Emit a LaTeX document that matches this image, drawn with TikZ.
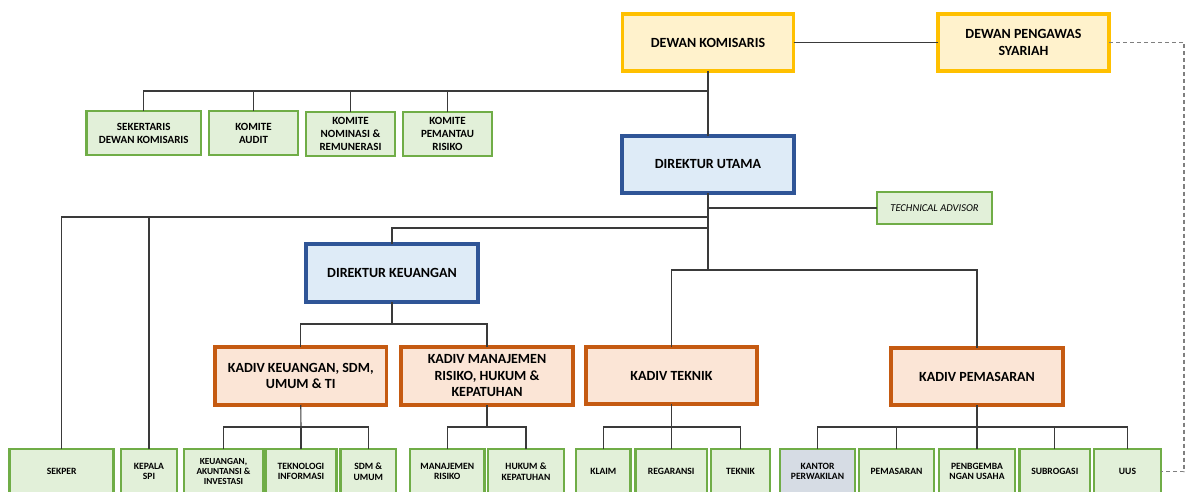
\documentclass[tikz,border=0pt]{standalone}
\usepackage{fontspec}
\setmainfont{Carlito}
\definecolor{yfill}{HTML}{FFF2CC}
\definecolor{ydraw}{HTML}{FFC000}
\definecolor{bfill}{HTML}{DEEBF7}
\definecolor{bdraw}{HTML}{2F5597}
\definecolor{ofill}{HTML}{FBE5D6}
\definecolor{odraw}{HTML}{C55A11}
\definecolor{gfill}{HTML}{E2F0D9}
\definecolor{gdraw}{HTML}{70AD47}
\definecolor{kfill}{HTML}{D6DCE4}
\definecolor{lcol}{HTML}{3A3A3A}
\definecolor{dcol}{HTML}{7F7F7F}
\tikzset{
  box/.style={rectangle, inner sep=0pt, outer sep=0pt, align=center, font=\bfseries},
  yel/.style={box, fill=yfill, draw=ydraw, line width=3.2pt, font=\bfseries\fontsize{14}{17.5}\selectfont},
  blu/.style={box, fill=bfill, draw=bdraw, line width=3.2pt, font=\bfseries\fontsize{14}{17}\selectfont},
  ora/.style={box, fill=ofill, draw=odraw, line width=3.2pt, font=\bfseries\fontsize{14}{16.5}\selectfont},
  grn/.style={box, fill=gfill, draw=gdraw, line width=2.6pt, font=\bfseries\fontsize{11}{13}\selectfont},
  grs/.style={box, fill=gfill, draw=gdraw, line width=2.6pt, font=\bfseries\fontsize{9.6}{10.5}\selectfont},
  conn/.style={draw=lcol, line width=1.1pt},
  dconn/.style={draw=dcol, line width=1.1pt, dash pattern=on 4pt off 3pt},
}
\begin{document}
\begin{tikzpicture}[x=1pt,y=-1pt]
\fill[white] (0,0) rectangle (1186,492);
\useasboundingbox (0,0) rectangle (1186,492);
\clip (0,0) rectangle (1186,492);
% top level
\node[yel, minimum width=171pt, minimum height=57pt] (dk) at (708,42.5) {DEWAN KOMISARIS};
\node[yel, minimum width=171pt, minimum height=57pt] (dps) at (1023.5,42.5) {DEWAN PENGAWAS\\SYARIAH};
% committees
\node[grn, minimum width=114.5pt, minimum height=44pt] (sdk) at (143.75,133) {SEKERTARIS\\DEWAN KOMISARIS};
\node[grn, minimum width=89pt, minimum height=44pt] (ka) at (253.5,133) {KOMITE\\AUDIT};
\node[grn, minimum width=89pt, minimum height=44pt] (kn) at (350.5,134) {KOMITE\\NOMINASI \&\\REMUNERASI};
\node[grn, minimum width=89pt, minimum height=44pt] (kp) at (447.5,134) {KOMITE\\PEMANTAU\\RISIKO};
% direktur
\node[blu, minimum width=172pt, minimum height=57pt] (du) at (708,164.5) {DIREKTUR UTAMA};
\node[box, fill=gfill, draw=gdraw, line width=1.6pt, minimum width=115pt, minimum height=32pt, font=\itshape\fontsize{10.5}{12}\selectfont] (ta) at (934.5,208) {TECHNICAL ADVISOR};
\node[blu, minimum width=172pt, minimum height=58pt] (dkeu) at (392,273) {DIREKTUR KEUANGAN};
% kadiv
\node[ora, minimum width=171.5pt, minimum height=58pt] (kkeu) at (300.75,376) {KADIV KEUANGAN, SDM,\\UMUM \& TI};
\node[ora, minimum width=172pt, minimum height=58pt] (kman) at (487,376) {KADIV MANAJEMEN\\RISIKO, HUKUM \&\\KEPATUHAN};
\node[ora, minimum width=171pt, minimum height=57pt] (ktek) at (671.5,375.5) {KADIV TEKNIK};
\node[ora, minimum width=172pt, minimum height=57pt] (kpem) at (977,376.5) {KADIV PEMASARAN};
% bottom row
\node[grs, minimum width=104pt, minimum height=45pt] (sekper) at (61.65,471.5) {SEKPER};
\node[grs, minimum width=56pt, minimum height=45pt] (spi) at (149,471.5) {KEPALA\\SPI};
\node[grs, minimum width=79pt, minimum height=45pt, font=\bfseries\fontsize{9.3}{9.6}\selectfont] (keu) at (223.5,471.5) {KEUANGAN,\\AKUNTANSI \&\\INVESTASI};
\node[grs, minimum width=71pt, minimum height=45pt] (ti) at (301,471.5) {TEKNOLOGI\\INFORMASI};
\node[grs, minimum width=55.4pt, minimum height=45pt] (sdm) at (368.3,471.5) {SDM \&\\UMUM};
\node[grs, minimum width=74.5pt, minimum height=45pt] (mr) at (447.25,471.5) {MANAJEMEN\\RISIKO};
\node[grs, minimum width=76pt, minimum height=45pt] (huk) at (526,471.5) {HUKUM \&\\KEPATUHAN};
\node[grs, minimum width=54.6pt, minimum height=45pt] (klaim) at (603.3,471.5) {KLAIM};
\node[grs, minimum width=71.5pt, minimum height=45pt] (reg) at (671.25,471.5) {REGARANSI};
\node[grs, minimum width=59pt, minimum height=45pt] (tek) at (740.5,471.5) {TEKNIK};
\node[grs, minimum width=75pt, minimum height=45pt, fill=kfill] (kantor) at (817.5,471.5) {KANTOR\\PERWAKILAN};
\node[grs, minimum width=75pt, minimum height=45pt] (pem) at (896.5,471.5) {PEMASARAN};
\node[grs, minimum width=76pt, minimum height=45pt] (pu) at (977,471.5) {PENBGEMBA\\NGAN USAHA};
\node[grs, minimum width=70.4pt, minimum height=45pt] (subr) at (1054.8,471.5) {SUBROGASI};
\node[grs, minimum width=67pt, minimum height=45pt] (uus) at (1127.5,471.5) {UUS};
% junctions
\coordinate (jc) at (708,91);
\coordinate (js) at (708,217);
\coordinate (jd) at (708,228);
\coordinate (ju) at (708,270);
\coordinate (jk) at (392,324);
\coordinate (jkk) at (301,427);
\coordinate (jkm) at (487,427);
\coordinate (jkt) at (671.5,427);
\coordinate (jkp) at (977,427);
\coordinate (rc) at (1184,250);
% connectors
\draw[conn] (dk.east) -- (dps.west);
\draw[conn] (dk.south) -- (du.north);
\draw[conn] (sdk.north) |- (jc);
\draw[conn] (ka.north) |- (jc);
\draw[conn] (kn.north) |- (jc);
\draw[conn] (kp.north) |- (jc);
\draw[conn] (du.south) -- (ju);
\draw[conn] (ta.west) -- (ta.west -| du.south);
\draw[conn] (sekper.north) |- (js);
\draw[conn] (spi.north) |- (js);
\draw[conn] (dkeu.north) |- (jd);
\draw[conn] (ktek.north) |- (ju);
\draw[conn] (kpem.north) |- (ju);
\draw[conn] (dkeu.south) -- (jk);
\draw[conn] (kkeu.north) |- (jk);
\draw[conn] (kman.north) |- (jk);
\draw[conn] (kkeu.south) -- (jkk);
\draw[conn] (keu.north) |- (jkk);
\draw[conn] (ti.north) -- (jkk);
\draw[conn] (sdm.north) |- (jkk);
\draw[conn] (kman.south) -- (jkm);
\draw[conn] (mr.north) |- (jkm);
\draw[conn] (huk.north) |- (jkm);
\draw[conn] (ktek.south) -- (jkt);
\draw[conn] (klaim.north) |- (jkt);
\draw[conn] (reg.north) |- (jkt);
\draw[conn] (tek.north) |- (jkt);
\draw[conn] (kpem.south) -- (jkp);
\draw[conn] (kantor.north) |- (jkp);
\draw[conn] (pem.north) |- (jkp);
\draw[conn] (pu.north) -- (jkp);
\draw[conn] (subr.north) |- (jkp);
\draw[conn] (uus.north) |- (jkp);
\draw[dconn] (dps.east) -| (rc) |- (uus.east);
\end{tikzpicture}
\end{document}
